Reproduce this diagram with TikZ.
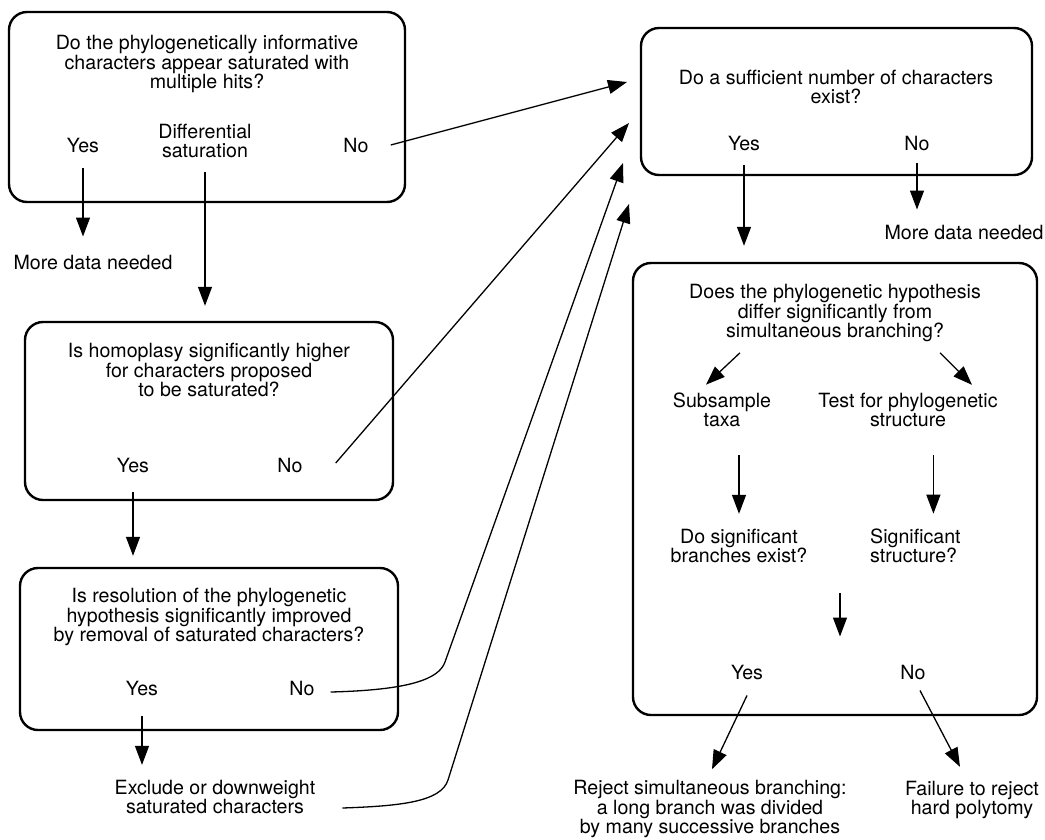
\documentclass[tikz,border=0pt]{standalone}
\usepackage{fontspec}
\setmainfont{TeX Gyre Heros}
\usetikzlibrary{arrows.meta}

\begin{document}
\begin{tikzpicture}[x=1pt,y=-1pt,
      >={Triangle[length=19pt,width=14pt]},
      box/.style={draw=black,line width=2.4pt,rounded corners=18pt},
      txt/.style={align=center,inner sep=0pt,font=\fontsize{19.6}{19.3}\selectfont},
      flow/.style={draw=black,line width=1.3pt,->}
    ]
    \useasboundingbox (0,0) rectangle (1045,839);

    % left column
    \node[box,minimum width=396pt,minimum height=190pt] (B1) at (207,107) {};
    \node[txt] (Q1) at (207,64)
      {Do the phylogenetically informative\\
       characters appear saturated with\\
       multiple hits?};
    \node[txt] (Y1) at (83,145) {Yes};
    \node[txt] (D1) at (205,141) {Differential\\saturation};
    \node[txt] (N1) at (356,145) {No};
    \node[txt] (MD1) at (93,262) {More data needed};

    \node[box,minimum width=368pt,minimum height=178pt] (B3) at (209,411) {};
    \node[txt] (Q3) at (209,370)
      {Is homoplasy significantly higher\\
       for characters proposed\\
       to be saturated?};
    \node[txt] (Y3) at (133,465) {Yes};
    \node[txt] (N3) at (290,465) {No};

    \node[box,minimum width=378pt,minimum height=162pt] (B4) at (209,649) {};
    \node[txt] (Q4) at (209,617)
      {Is resolution of the phylogenetic\\
       hypothesis significantly improved\\
       by removal of saturated characters?};
    \node[txt] (Y4) at (142,688) {Yes};
    \node[txt] (N4) at (302,688) {No};
    \node[txt] (EX) at (215,797) {Exclude or downweight\\saturated characters};

    % right column
    \node[box,minimum width=391pt,minimum height=147pt] (B2) at (836.5,101.5) {};
    \node[txt] (Q2) at (836,87)
      {Do a sufficient number of characters\\
       exist?};
    \node[txt] (Y2) at (744,143) {Yes};
    \node[txt] (N2) at (917,143) {No};
    \node[txt] (MD2) at (964,232) {More data needed};

    \node[box,minimum width=404pt,minimum height=452pt] (B5) at (835,489) {};
    \node[txt] (Q5) at (835,313)
      {Does the phylogenetic hypothesis\\
       differ significantly from\\
       simultaneous branching?};
    \node[txt] (SS) at (722,410) {Subsample\\taxa};
    \node[txt] (TP) at (908,410) {Test for phylogenetic\\structure};
    \node[txt] (DS) at (739,546) {Do significant\\branches exist?};
    \node[txt,align=left,anchor=west] (SST) at (870,546) {Significant\\structure?};
    \node[txt] (Y5) at (747,672) {Yes};
    \node[txt] (N5) at (913,672) {No};
    \node[txt] (REJ) at (710,809)
      {Reject simultaneous branching:\\
       a long branch was divided\\
       by many successive branches};
    \node[txt] (FL) at (972,800) {Failure to reject\\hard polytomy};

    \coordinate (in1) at (627,82);
    \coordinate (in2) at (629,123);
    \coordinate (in3) at (623,163);
    \coordinate (in4) at (629,204);
    \coordinate (mid) at (840,593);

    \draw[flow,shorten <=16pt,shorten >=18pt] (Y1.south) -- (Y1.south |- MD1.north);
    \draw[flow,shorten <=14pt,shorten >=15pt] (D1.south) -- (D1.south |- B3.north);
    \draw[flow] ([xshift=22pt]N1.east) -- (in1);
    \draw[flow] ([xshift=33pt,yshift=2pt]N3.east) -- (in2);
    \draw[flow,shorten <=20pt,shorten >=11pt] (Y3.south) -- (Y3.south |- B4.north);
    \draw[flow] ([xshift=16pt,yshift=-4pt]N4.east)
      .. controls (410,690) and (439,679) .. (445,662) -- (in3);
    \draw[flow,shorten <=20pt,shorten >=15pt] (Y4.south) -- (Y4.south |- EX.north);
    \draw[flow] ([xshift=27pt,yshift=-11pt]EX.east)
      .. controls (400,806) and (441,802) .. (448,780) -- (in4);

    \draw[flow,shorten <=15pt,shorten >=16pt] (Y2.south) -- (Y2.south |- B5.north);
    \draw[flow,shorten <=13pt,shorten >=15pt] (N2.south) -- (N2.south |- MD2.north);
    \draw[flow] ([xshift=-95pt,yshift=-11pt]Q5.south) -- ([xshift=-16pt,yshift=8pt]SS.north);
    \draw[flow] ([xshift=105pt,yshift=-11pt]Q5.south) -- ([xshift=64pt,yshift=8pt]TP.north);
    \draw[flow,shorten <=28pt,shorten >=15pt] (DS.north |- SS.south) -- (DS.north);
    \draw[flow,shorten <=28pt,shorten >=15pt] ([xshift=18pt]SST.north |- TP.south) -- ([xshift=18pt]SST.north);
    \draw[flow,shorten >=28pt] (mid) -- (mid |- Y5.north);
    \draw[flow] ([yshift=-16pt]Y5.south) -- ([xshift=2pt,yshift=11pt]REJ.north);
    \draw[flow] ([xshift=7pt,yshift=-11pt]N5.south) -- ([xshift=-12pt,yshift=14pt]FL.north);
  \end{tikzpicture}
\end{document}
